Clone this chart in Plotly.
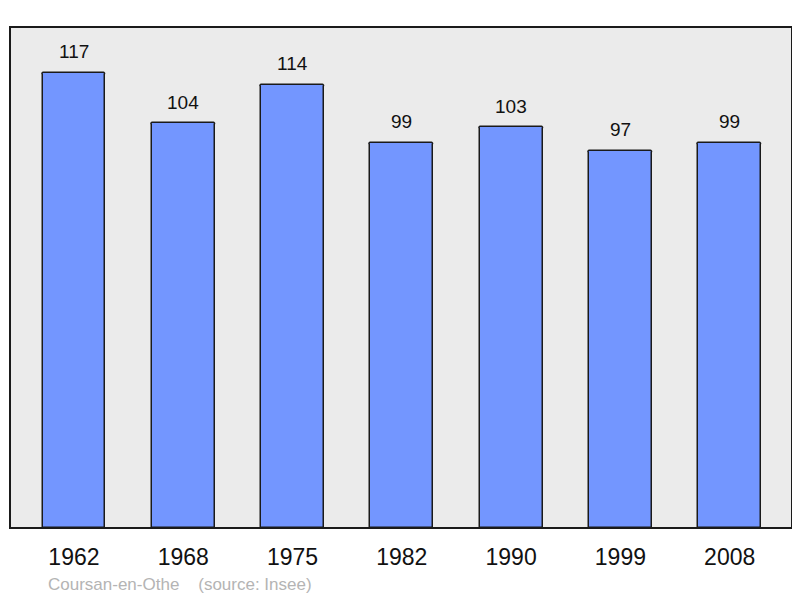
import plotly.graph_objects as go

years = ["1962", "1968", "1975", "1982", "1990", "1999", "2008"]
population = [117, 104, 114, 99, 103, 97, 99]
commune = "Coursan-en-Othe"
source = "(source: Insee)"

fig = go.Figure()
fig.add_trace(go.Bar(
    x=years, y=population, width=0.575,
    marker=dict(color="#7396ff", line=dict(color="#1a1a1a", width=1.5), cornerradius=2),
    hoverinfo="x+y",
))

for i, v in enumerate(population):
    fig.add_annotation(x=i, y=v, text=str(v), showarrow=False, yshift=21,
                       font=dict(size=19, color="#111111", family="Liberation Sans, Arial, sans-serif"))

fig.add_annotation(xref="paper", yref="paper", x=(46 - 10) / 782, y=0, yshift=-56,
                   xanchor="left", yanchor="middle", showarrow=False,
                   text=commune + "&nbsp;&nbsp;&nbsp;&nbsp;" + source,
                   font=dict(size=17, color="#b4b4b4", family="Liberation Sans, Arial, sans-serif"))

fig.add_shape(type="rect", xref="paper", yref="paper", x0=0, x1=1, y0=0, y1=1,
              line=dict(color="#1a1a1a", width=2), layer="above")

fig.update_layout(
    width=792, height=590,
    margin=dict(l=2, r=8, t=19, b=70),
    paper_bgcolor="white", plot_bgcolor="#ebebeb",
    showlegend=False, bargap=0,
    font=dict(family="Liberation Sans, Arial, sans-serif"),
    xaxis=dict(type="category", range=[-0.585, 6.57], showgrid=False, zeroline=False,
               ticks="outside", ticklen=8, tickcolor="rgba(0,0,0,0)",
               tickfont=dict(size=23, color="#111111"), fixedrange=True),
    yaxis=dict(range=[0, 128.8], showgrid=False, zeroline=False, showticklabels=False,
               ticks="", fixedrange=True),
)

fig.write_html("out.html")
